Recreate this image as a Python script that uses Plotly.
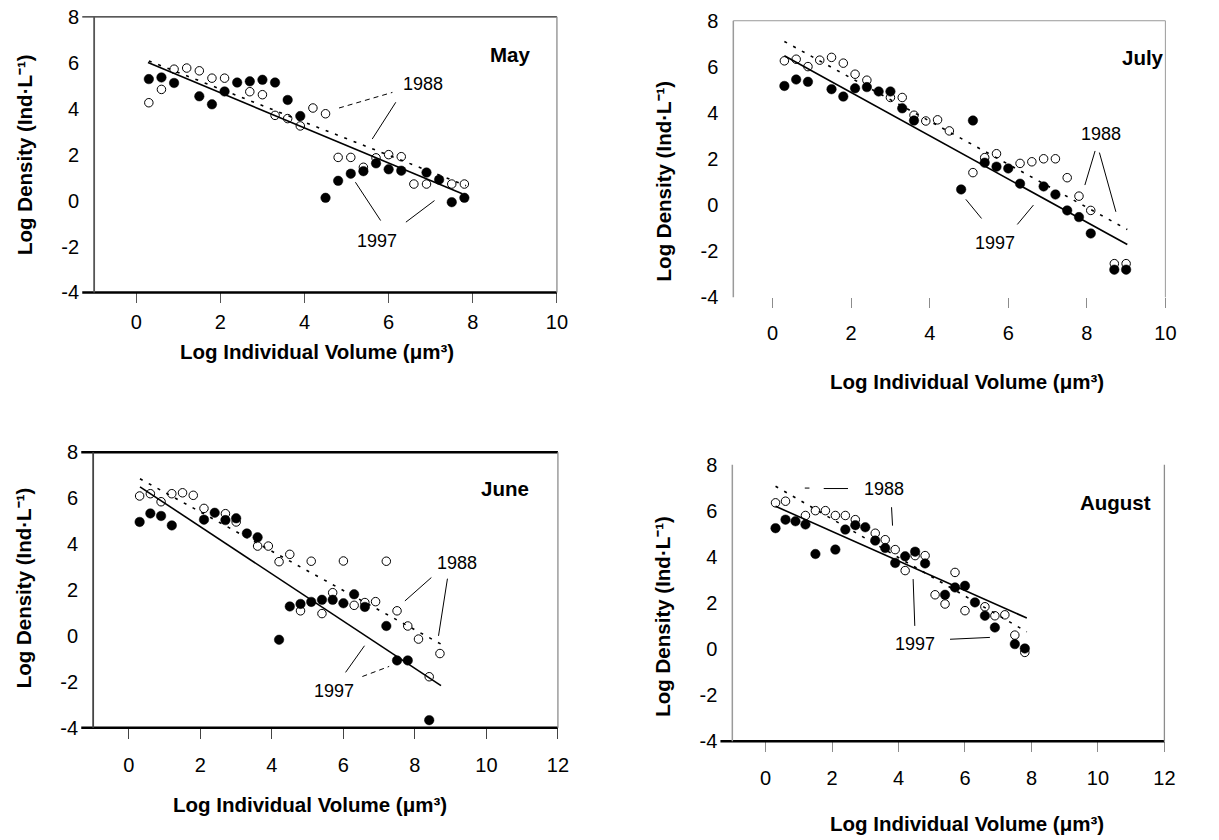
import plotly.graph_objects as go

W, H = 1219, 840
FONT = "Liberation Sans, Arial, sans-serif"

# ---------------- data ----------------
may_x_1997 = [0.3, 0.6, 0.9, 1.5, 1.8, 2.1, 2.4, 2.7, 3.0, 3.3, 3.6, 3.9, 4.5, 4.8, 5.1, 5.4, 5.7, 6.0, 6.3, 6.9, 7.2, 7.5, 7.8]
may_y_1997 = [5.29, 5.36, 5.12, 4.54, 4.19, 4.75, 5.14, 5.19, 5.26, 5.14, 4.38, 3.68, 0.12, 0.86, 1.17, 1.28, 1.62, 1.36, 1.30, 1.22, 0.91, -0.07, 0.12]
may_x_1988 = [0.3, 0.6, 0.9, 1.2, 1.5, 1.8, 2.1, 2.7, 3.0, 3.3, 3.6, 3.9, 4.2, 4.5, 4.8, 5.1, 5.4, 5.7, 6.0, 6.3, 6.6, 6.9, 7.5, 7.8]
may_y_1988 = [4.26, 4.84, 5.72, 5.77, 5.65, 5.33, 5.33, 4.74, 4.61, 3.71, 3.57, 3.25, 4.03, 3.78, 1.88, 1.88, 1.45, 1.86, 2.00, 1.91, 0.72, 0.72, 0.72, 0.72]
may_fit_1997 = [(0.28, 6.01), (7.75, 0.30)]
may_fit_1988 = [(0.30, 6.08), (7.84, 0.65)]

jul_x_1997 = [0.3, 0.6, 0.9, 1.5, 1.8, 2.1, 2.4, 2.7, 3.0, 3.3, 3.6, 4.8, 5.1, 5.4, 5.7, 6.0, 6.3, 6.9, 7.2, 7.5, 7.8, 8.1, 8.7, 9.0]
jul_y_1997 = [5.17, 5.45, 5.35, 5.03, 4.71, 5.07, 5.12, 4.93, 4.93, 4.20, 3.67, 0.68, 3.67, 1.84, 1.67, 1.59, 0.93, 0.81, 0.46, -0.23, -0.52, -1.23, -2.80, -2.80]
jul_x_1988 = [0.3, 0.6, 0.9, 1.2, 1.5, 1.8, 2.1, 2.4, 3.0, 3.3, 3.6, 3.9, 4.2, 4.5, 5.1, 5.4, 5.7, 6.3, 6.6, 6.9, 7.2, 7.5, 7.8, 8.1, 8.7, 9.0]
jul_y_1988 = [6.26, 6.33, 6.01, 6.29, 6.41, 6.16, 5.68, 5.42, 4.67, 4.67, 3.90, 3.65, 3.70, 3.22, 1.41, 2.06, 2.23, 1.81, 1.88, 2.01, 2.01, 1.19, 0.39, -0.23, -2.54, -2.54]
jul_fit_1997 = [(0.30, 6.48), (9.03, -1.71)]
jul_fit_1988 = [(0.30, 7.10), (9.03, -1.06)]

jun_x_1997 = [0.3, 0.6, 0.9, 1.2, 2.1, 2.4, 2.7, 3.0, 3.3, 3.6, 4.2, 4.5, 4.8, 5.1, 5.4, 5.7, 6.0, 6.3, 6.6, 7.2, 7.5, 7.8, 8.4]
jun_y_1997 = [4.96, 5.33, 5.22, 4.81, 5.06, 5.36, 5.04, 5.12, 4.46, 4.29, -0.17, 1.28, 1.39, 1.48, 1.57, 1.57, 1.42, 1.81, 1.26, 0.43, -1.07, -1.07, -3.67]
jun_x_1988 = [0.3, 0.6, 0.9, 1.2, 1.5, 1.8, 2.1, 2.7, 3.0, 3.6, 3.9, 4.2, 4.5, 4.8, 5.1, 5.4, 5.7, 6.0, 6.3, 6.6, 6.9, 7.2, 7.5, 7.8, 8.1, 8.4, 8.7]
jun_y_1988 = [6.09, 6.19, 5.84, 6.19, 6.23, 6.12, 5.55, 5.32, 4.96, 3.91, 3.91, 3.23, 3.55, 1.09, 3.25, 0.97, 1.88, 3.26, 1.33, 1.45, 1.49, 3.25, 1.09, 0.43, -0.14, -1.78, -0.77]
jun_fit_1997 = [(0.31, 6.49), (8.73, -2.17)]
jun_fit_1988 = [(0.31, 6.84), (8.73, -0.36)]

aug_x_1997 = [0.3, 0.6, 0.9, 1.2, 1.5, 2.1, 2.4, 2.7, 3.0, 3.3, 3.6, 3.9, 4.2, 4.5, 4.8, 5.4, 5.7, 6.0, 6.3, 6.6, 6.9, 7.5, 7.8]
aug_y_1997 = [5.25, 5.62, 5.55, 5.41, 4.13, 4.32, 5.19, 5.38, 5.29, 4.71, 4.39, 3.74, 4.03, 4.23, 3.72, 2.36, 2.68, 2.75, 2.03, 1.45, 0.94, 0.22, 0.03]
aug_x_1988 = [0.3, 0.6, 1.2, 1.5, 1.8, 2.1, 2.4, 2.7, 3.3, 3.6, 3.9, 4.2, 4.5, 4.8, 5.1, 5.4, 5.7, 6.0, 6.6, 6.9, 7.2, 7.5, 7.8]
aug_y_1988 = [6.35, 6.42, 5.80, 6.01, 6.01, 5.80, 5.80, 5.62, 5.03, 4.75, 4.32, 3.41, 4.06, 4.06, 2.36, 1.96, 3.33, 1.67, 1.84, 1.45, 1.49, 0.61, -0.14]
aug_fit_1997 = [(0.30, 6.20), (7.86, 1.35)]
aug_fit_1988 = [(0.30, 7.07), (7.86, 0.75)]

y_ticks = [-4, -2, 0, 2, 4, 6, 8]
y_tick_text = ["-4", "-2", "0", "2", "4", "6", "8"]
x_ticks_10 = [0, 2, 4, 6, 8, 10]
x_ticks_12 = [0, 2, 4, 6, 8, 10, 12]

x_title = "Log Individual Volume (\u03bcm\u00b3)"
y_title = "Log Density (Ind\u00b7L\u207b\u00b9)"

# label positions (data coords) and leader lines [(x0,y0),(x1,y1), dashed]
may_labels = [("1988", 6.81, 5.07), ("1997", 5.73, -1.74)]
may_leaders = [((4.82, 4.03), (6.09, 4.71), True), ((6.17, 4.28), (5.61, 2.68), False),
               ((5.81, -0.87), (5.21, 0.80), False), ((6.41, -0.94), (7.09, 0.0), False)]
jul_labels = [("1988", 8.36, 3.07), ("1997", 5.66, -1.64)]
jul_leaders = [((8.21, 2.35), (7.95, 0.87), False), ((8.32, 2.28), (8.74, -0.29), False),
               ((5.32, -0.58), (4.92, 0.25), False), ((6.23, -0.84), (6.64, 0.0), False)]
jun_labels = [("1988", 9.18, 3.19), ("1997", 5.73, -2.42)]
jun_leaders = [((8.46, 2.54), (7.72, 1.52), False), ((8.91, 2.49), (8.66, 0.0), False),
               ((6.06, -1.59), (6.59, -0.43), False), ((6.53, -1.77), (7.28, -1.33), True)]
aug_labels = [("1988", 3.57, 6.96), ("1997", 4.49, 0.22)]
aug_leaders = [((1.18, 6.99), (1.32, 6.99), False), ((1.75, 6.97), (2.48, 6.97), False),
               ((3.79, 6.16), (3.82, 5.36), False),
               ((4.44, 3.04), (4.49, 1.01), False), ((5.55, 0.43), (6.75, 0.51), False)]

# ---------------- panel layout (pixels) ----------------
panels = [
    dict(month="May", n="", box=(95, 562, 6, 289), xr=[-1, 10], xt=x_ticks_10,
         x97=may_x_1997, y97=may_y_1997, x88=may_x_1988, y88=may_y_1988,
         f97=may_fit_1997, f88=may_fit_1988, labels=may_labels, leaders=may_leaders,
         month_pos=(515, 45), xtitle_pos=(320, 350), ytitle_pos=(24, 147), xlab_off=2,
         tickcol="#555555",
         frame=dict(top=("#222222", 1.2, True), right=("#8c8c8c", 1.3), left=("#555555", 1.8),
                    bottom=("#000000", 2.5, True))),
    dict(month="July", n="2", box=(740, 1176, 10, 294), xr=[-1, 10], xt=x_ticks_10,
         x97=jul_x_1997, y97=jul_y_1997, x88=jul_x_1988, y88=jul_y_1988,
         f97=jul_fit_1997, f88=jul_fit_1988, labels=jul_labels, leaders=jul_leaders,
         month_pos=(1153, 48), xtitle_pos=(976, 380), ytitle_pos=(669, 174), xlab_off=8,
         tickcol="#8c8c8c",
         frame=dict(top=("#9a9a9a", 1.0, False), right=("#9a9a9a", 1.0), left=("#9a9a9a", 1.5),
                    bottom=None)),
    dict(month="June", n="3", box=(94, 563, 453, 736), xr=[-1, 12], xt=x_ticks_12,
         x97=jun_x_1997, y97=jun_y_1997, x88=jun_x_1988, y88=jun_y_1988,
         f97=jun_fit_1997, f88=jun_fit_1988, labels=jun_labels, leaders=jun_leaders,
         month_pos=(510, 490), xtitle_pos=(313, 815), ytitle_pos=(24, 592), xlab_off=9,
         tickcol="#444444",
         frame=dict(top=("#000000", 2.5, True), right=("#8c8c8c", 1.3), left=("#444444", 1.8),
                    bottom=("#000000", 2.5, True))),
    dict(month="August", n="4", box=(739, 1175, 466, 750), xr=[-1, 12], xt=x_ticks_12,
         x97=aug_x_1997, y97=aug_y_1997, x88=aug_x_1988, y88=aug_y_1988,
         f97=aug_fit_1997, f88=aug_fit_1988, labels=aug_labels, leaders=aug_leaders,
         month_pos=(1126, 505), xtitle_pos=(976, 834), ytitle_pos=(669, 621), xlab_off=9,
         tickcol="#8c8c8c",
         frame=dict(top=None, right=("#8c8c8c", 1.3), left=("#9a9a9a", 1.5),
                    bottom=("#000000", 2.5, True))),
]


def px(x):
    return x / W


def py(y):
    return 1 - y / H


fig = go.Figure()
layout = dict(width=W, height=H, margin=dict(l=0, r=0, t=0, b=0),
              paper_bgcolor="white", plot_bgcolor="white", showlegend=False,
              font=dict(family=FONT, color="black"))
shapes = []
annotations = []

TICK_FONT = dict(size=20, family=FONT, color="black")
TITLE_FONT = dict(size=20.5, family=FONT, color="black", weight="bold")
LABEL_FONT = dict(size=18, family=FONT, color="black")

for p in panels:
    n = p["n"]
    xa, ya = "x" + n, "y" + n
    L, R, T, B = p["box"]
    layout["xaxis" + n] = dict(domain=[px(L), px(R)], range=p["xr"], tickvals=p["xt"],
                               ticktext=[str(v) for v in p["xt"]],
                               ticks="outside", ticklen=10, tickwidth=1.3, tickcolor=p["tickcol"],
                               showline=False, showgrid=False, zeroline=False, anchor=ya,
                               tickfont=TICK_FONT, ticklabelstandoff=p["xlab_off"], fixedrange=True)
    layout["yaxis" + n] = dict(domain=[py(B), py(T)], range=[-4, 8], tickvals=y_ticks,
                               ticktext=y_tick_text,
                               ticks="", showline=False, showgrid=False, zeroline=False, anchor=xa,
                               tickfont=TICK_FONT, ticklabelstandoff=14, fixedrange=True)

    # open circles (1988)
    fig.add_trace(go.Scatter(x=p["x88"], y=p["y88"], mode="markers", xaxis=xa, yaxis=ya,
                             marker=dict(symbol="circle", size=8.5, color="white",
                                         line=dict(color="black", width=1))))
    # fitted lines
    (a0, b0), (a1, b1) = p["f88"]
    fig.add_trace(go.Scatter(x=[a0, a1], y=[b0, b1], mode="lines", xaxis=xa, yaxis=ya,
                             line=dict(color="black", width=1.6, dash="3px,7px")))
    (a0, b0), (a1, b1) = p["f97"]
    fig.add_trace(go.Scatter(x=[a0, a1], y=[b0, b1], mode="lines", xaxis=xa, yaxis=ya,
                             line=dict(color="black", width=1.6)))
    # filled circles (1997)
    fig.add_trace(go.Scatter(x=p["x97"], y=p["y97"], mode="markers", xaxis=xa, yaxis=ya,
                             marker=dict(symbol="circle", size=9.5, color="black",
                                         line=dict(color="black", width=0.5))))
    # leader lines
    for (s0, s1, dashed) in p["leaders"]:
        fig.add_trace(go.Scatter(x=[s0[0], s1[0]], y=[s0[1], s1[1]], mode="lines",
                                 xaxis=xa, yaxis=ya,
                                 line=dict(color="black", width=1,
                                           dash="5px,4px" if dashed else "solid")))
    for (txt, tx, ty) in p["labels"]:
        annotations.append(dict(text=txt, x=tx, y=ty, xref=xa, yref=ya, showarrow=False,
                                font=LABEL_FONT))

    # month label
    mx, my = p["month_pos"]
    annotations.append(dict(text=p["month"], x=px(mx), y=py(my), xref="paper",
                            yref="paper", showarrow=False, xanchor="center", yanchor="middle",
                            font=TITLE_FONT))
    # axis titles
    tx, ty = p["xtitle_pos"]
    annotations.append(dict(text=x_title,
                            x=px(tx), y=py(ty), xref="paper", yref="paper", showarrow=False,
                            xanchor="center", yanchor="middle", font=TITLE_FONT))
    tx, ty = p["ytitle_pos"]
    annotations.append(dict(text=y_title,
                            x=px(tx), y=py(ty), xref="paper", yref="paper", showarrow=False,
                            xanchor="center", yanchor="middle", textangle=-90,
                            font=TITLE_FONT))

    # frame
    fr = p["frame"]
    ext = 12
    if fr["top"]:
        c, w, e = fr["top"]
        shapes.append(dict(type="line", xref="paper", yref="paper", x0=px(L - (ext if e else 0)),
                           x1=px(R), y0=py(T), y1=py(T), line=dict(color=c, width=w)))
    if fr["bottom"]:
        c, w, e = fr["bottom"]
        shapes.append(dict(type="line", xref="paper", yref="paper", x0=px(L - (ext if e else 0)),
                           x1=px(R), y0=py(B), y1=py(B), line=dict(color=c, width=w)))
    c, w = fr["right"]
    shapes.append(dict(type="line", xref="paper", yref="paper", x0=px(R), x1=px(R),
                       y0=py(B), y1=py(T), line=dict(color=c, width=w)))
    c, w = fr["left"]
    shapes.append(dict(type="line", xref="paper", yref="paper", x0=px(L), x1=px(L),
                       y0=py(B), y1=py(T), line=dict(color=c, width=w)))

layout["shapes"] = shapes
layout["annotations"] = annotations
fig.update_layout(**layout)
fig.write_html("out.html", config={"displayModeBar": False},
               post_script="document.body.style.margin='0';document.body.style.overflow='hidden';")
